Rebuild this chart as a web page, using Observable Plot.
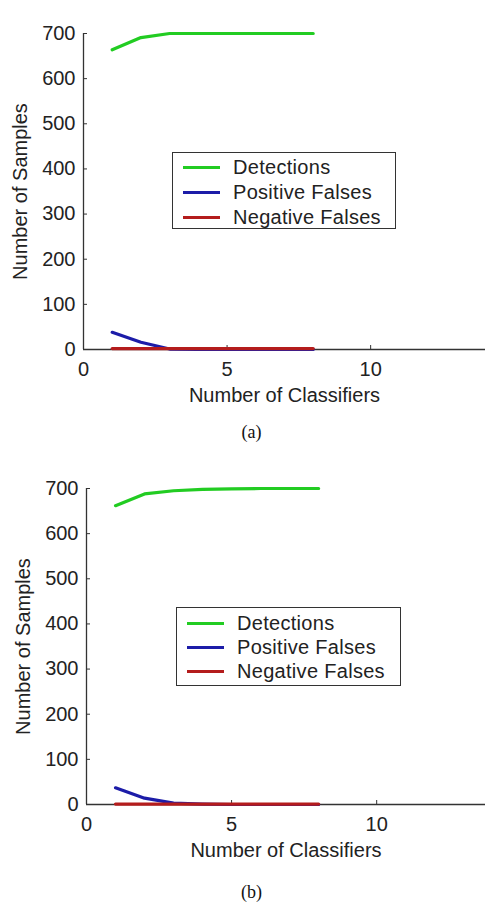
<!DOCTYPE html>
<html>
<head>
<meta charset="utf-8">
<script src="https://cdn.jsdelivr.net/npm/d3@7"></script>
<script src="https://cdn.jsdelivr.net/npm/@observablehq/plot@0.6"></script>
<style>
  body { margin: 0; background: #fff; }
  #wrap { position: relative; width: 485px; height: 904px; overflow: hidden; background: #fff; }
  .panel { position: absolute; left: 0; }
  .legend { position: absolute; border: 1.5px solid #333; background: #fff; box-sizing: border-box;
            font-family: "Liberation Sans", Arial, sans-serif; font-size: 20px; color: #222; letter-spacing: 0.3px; }
  .row { position: absolute; left: 0; height: 24px; width: 100%; }
  .sw { position: absolute; left: 10px; width: 37px; height: 3px; top: 10.5px; }
  .lt { position: absolute; left: 60px; top: 0; line-height: 24px; white-space: nowrap; }
  .cap { position: absolute; width: 485px; text-align: center;
         font-family: "Liberation Serif", "Times New Roman", serif; font-size: 18px; color: #111; line-height: 20px; }
</style>
</head>
<body>
<div id="wrap"></div>
<script>
// ---- data ----
const classifiers = [1, 2, 3, 4, 5, 6, 7, 8];
const seriesNames = ["Detections", "Positive Falses", "Negative Falses"];
const seriesColors = ["#22cc22", "#1c1ca8", "#b41c1c"];

const detectionsA = [664, 691, 700, 700, 700, 700, 700, 700];
const positiveA   = [38, 16, 1, 0, 0, 0, 0, 0];
const negativeA   = [2, 2, 2, 2, 2, 2, 2, 2];

const detectionsB = [662, 688, 695, 698, 699, 700, 700, 700];
const positiveB   = [37, 14, 3, 1, 0, 0, 0, 0];
const negativeB   = [1, 1, 1, 1, 1, 1, 1, 1];

const xTicks = [0, 5, 10];
const yTicks = [0, 100, 200, 300, 400, 500, 600, 700];
const xLabel = "Number of Classifiers";
const yLabel = "Number of Samples";
const captions = ["(a)", "(b)"];

function rowsFor(det, pos, neg) {
  const vals = [det, pos, neg];
  const out = [];
  vals.forEach((arr, i) => arr.forEach((v, j) => out.push({x: classifiers[j], y: v, s: seriesNames[i]})));
  return out;
}

function panel(det, pos, neg, cfg) {
  return Plot.plot({
    width: 485,
    height: 409,
    marginTop: 33,
    marginLeft: cfg.left,
    marginRight: 0,
    marginBottom: 60,
    style: {fontFamily: "'Liberation Sans', Arial, sans-serif", fontSize: "20px", color: "#222", background: "transparent", overflow: "visible"},
    x: {domain: cfg.xdomain},
    y: {domain: [0, 700]},
    color: {domain: seriesNames, range: seriesColors},
    marks: [
      Plot.ruleY([0], {stroke: "#333", strokeWidth: 1.3}),
      Plot.ruleX([0], {stroke: "#333", strokeWidth: 1.3}),
      Plot.axisX({ticks: xTicks, tickSize: -4, tickPadding: 16, stroke: "#333",
                  label: xLabel, labelAnchor: "center", labelOffset: 52, labelArrow: "none"}),
      Plot.axisY({ticks: yTicks, tickSize: -4, tickPadding: 12, stroke: "#333",
                  label: yLabel, labelAnchor: "center", labelOffset: 71, labelArrow: "none"}),
      Plot.line(rowsFor(det, pos, neg), {x: "x", y: "y", z: "s", stroke: "s", strokeWidth: 3.2})
    ]
  });
}

function legend(box) {
  const el = document.createElement("div");
  el.className = "legend";
  Object.assign(el.style, {left: box.left + "px", top: box.top + "px", width: box.w + "px", height: box.h + "px"});
  seriesNames.forEach((name, i) => {
    const r = document.createElement("div");
    r.className = "row";
    r.style.top = (box.rowTop + i * box.rowGap) + "px";
    const sw = document.createElement("div");
    sw.className = "sw";
    sw.style.background = seriesColors[i];
    const t = document.createElement("div");
    t.className = "lt";
    t.textContent = name;
    r.appendChild(sw); r.appendChild(t);
    el.appendChild(r);
  });
  return el;
}

const wrap = document.getElementById("wrap");

const pA = panel(detectionsA, positiveA, negativeA, {left: 83, xdomain: [0, 14]});
pA.classList.add("panel"); pA.style.top = "0px";
wrap.appendChild(pA);

const pB = panel(detectionsB, positiveB, negativeB, {left: 86, xdomain: [0, 13.75]});
pB.classList.add("panel"); pB.style.top = "455px";
wrap.appendChild(pB);

wrap.appendChild(legend({left: 172, top: 152, w: 224, h: 77, rowTop: 2, rowGap: 25}));
wrap.appendChild(legend({left: 176, top: 607, w: 225, h: 79, rowTop: 3, rowGap: 24}));

[[captions[0], 422], [captions[1], 882]].forEach(([txt, top]) => {
  const c = document.createElement("div");
  c.className = "cap";
  c.style.top = top + "px";
  c.style.left = "9px";
  c.textContent = txt;
  wrap.appendChild(c);
});
</script>
</body>
</html>
